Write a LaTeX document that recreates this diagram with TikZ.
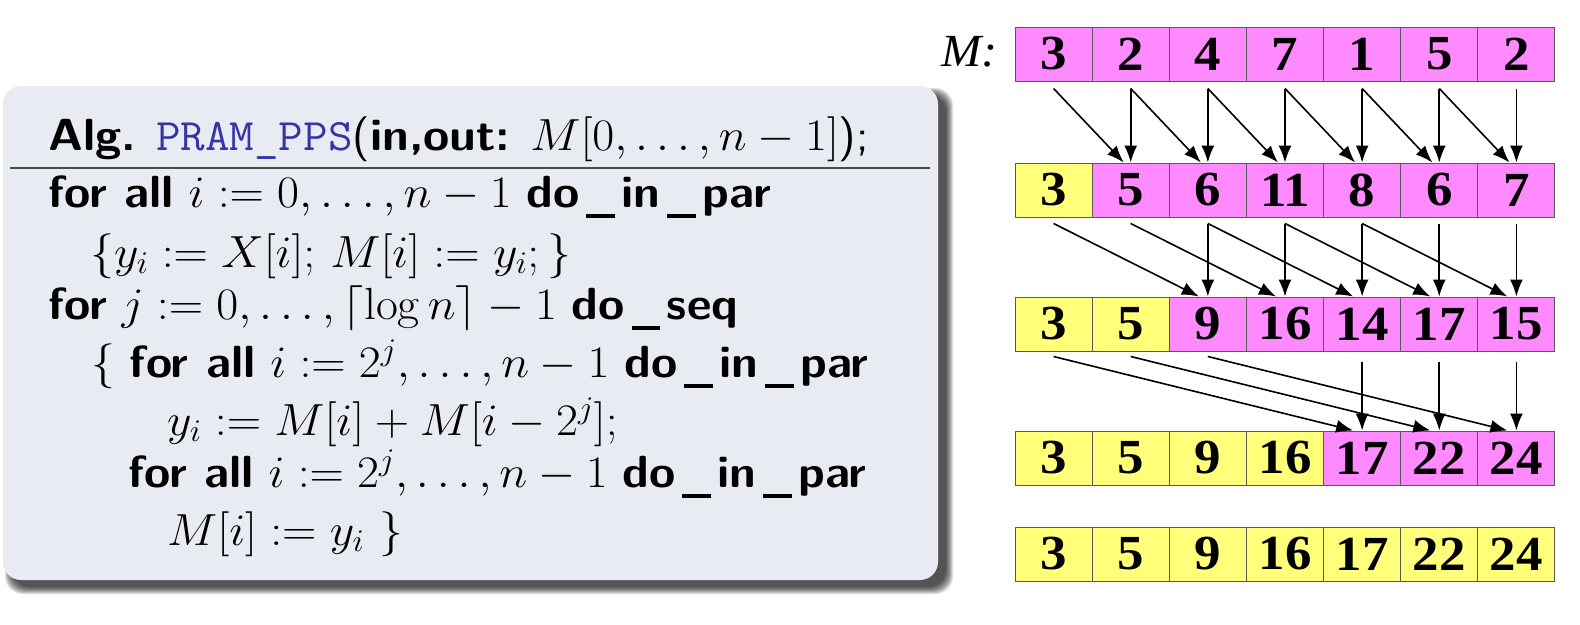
\RequirePackage{fix-cm}
\documentclass[tikz,border=0pt]{standalone}
\usepackage{graphicx}
\usepackage{fontspec}
\newfontfamily\cellfont{Liberation Serif}
\usetikzlibrary{arrows.meta,calc}
\definecolor{pnk}{HTML}{FF8AFF}
\definecolor{yel}{HTML}{FFFF7A}
\definecolor{boxbg}{HTML}{E9EBF3}
\definecolor{pramblue}{HTML}{3535A8}
\newcommand\us{\kern0.14em\rule[-0.24em]{0.6em}{0.09em}\kern0.14em}
\newcommand\wide[1]{\scalebox{1.06}[1]{#1}}
\newcommand\mkrow[4]{%
  \foreach \v [count=\i from 0] in {#4}{%
    \ifnum\i<#3\relax\def\cc{yel}\else\def\cc{pnk}\fi
    \node[cell,fill=\cc] (r#1c\i) at ({1015+77.14*(\i+0.5)},#2) {\scalebox{1.08}[1]{\v}};}}
\begin{document}
\begin{tikzpicture}[x=1pt,y=-1pt,
  cell/.style={draw=black!65,line width=1pt,minimum width=77.14pt,minimum height=54pt,inner sep=0pt,
    font=\fontsize{49}{50}\selectfont\cellfont\bfseries},
  arr/.style={line width=1.6pt,-{Latex[length=17pt,width=13pt]}},
  code/.style={anchor=base west,inner sep=0pt,font=\fontsize{45}{52}\selectfont\sffamily}]
\useasboundingbox (0,0) rectangle (1580,624);
% shadow
\foreach \k in {0,...,7}
  \fill[black,opacity=0.13,rounded corners=18] (12-\k,95-\k) rectangle (946+\k,587+\k);
\fill[boxbg,rounded corners=18] (3,86) rectangle (938,580);
\draw[line width=2pt,black!70] (10,168) -- (930,168);
\node[code] (l1) at (48,150) {\wide{\textbf{Alg.} {\ttfamily\color{pramblue}PRAM\_PPS}(\textbf{in,out:} $M[0,\ldots,n-1]$);}};
\node[code] (l2) at (48,207) {\wide{\textbf{for all} $i:=0,\ldots,n-1$ \textbf{do\us in\us par}}};
\node[code] (l3) at (90,267) {\wide{$\{y_i:=X[i];$ $M[i]:=y_i;\}$}};
\node[code] (l4) at (48,319) {\wide{\textbf{for} $j:=0,\ldots,\lceil\log n\rceil-1$ \textbf{do\us seq}}};
\node[code] (l5) at (91,377) {\wide{$\{$ \textbf{for all} $i:=2^j,\ldots,n-1$ \textbf{do\us in\us par}}};
\node[code] (l6) at (167,435) {\wide{$y_i:=M[i]+M[i-2^j];$}};
\node[code] (l7) at (128,487) {\wide{\textbf{for all} $i:=2^j,\ldots,n-1$ \textbf{do\us in\us par}}};
\node[code] (l8) at (167,545) {\wide{$M[i]:=y_i$ $\}$}};
% arrays
\node[anchor=east,inner sep=0pt,font=\fontsize{46}{50}\selectfont\cellfont\itshape] (mlab) at (998,52) {\scalebox{1.05}[1]{M:}};
\mkrow{1}{54}{0}{3,2,4,7,1,5,2}
\mkrow{2}{190}{1}{3,5,6,11,8,6,7}
\mkrow{3}{324}{2}{3,5,9,16,14,17,15}
\mkrow{4}{458}{4}{3,5,9,16,17,22,24}
\mkrow{5}{554}{7}{3,5,9,16,17,22,24}
% arrows
\foreach \i [evaluate=\i as \j using int(\i-1)] in {1,...,6}{
  \draw[arr] ([yshift=-7pt]r1c\i.south) -- (r2c\i.north);
  \draw[arr] ([yshift=-7pt]r1c\j.south) -- ([xshift=-7pt]r2c\i.north);}
\foreach \i [evaluate=\i as \j using int(\i-2)] in {2,...,6}{
  \draw[arr] ([yshift=-6pt]r2c\i.south) -- (r3c\i.north);
  \draw[arr] ([yshift=-6pt]r2c\j.south) -- ([xshift=-9pt]r3c\i.north);}
\foreach \i [evaluate=\i as \j using int(\i-4)] in {4,...,6}{
  \draw[arr] ([yshift=-10pt]r3c\i.south) -- (r4c\i.north);
  \draw[arr] ([yshift=-5pt]r3c\j.south) -- ([xshift=-9pt]r4c\i.north);}
\end{tikzpicture}
\end{document}
